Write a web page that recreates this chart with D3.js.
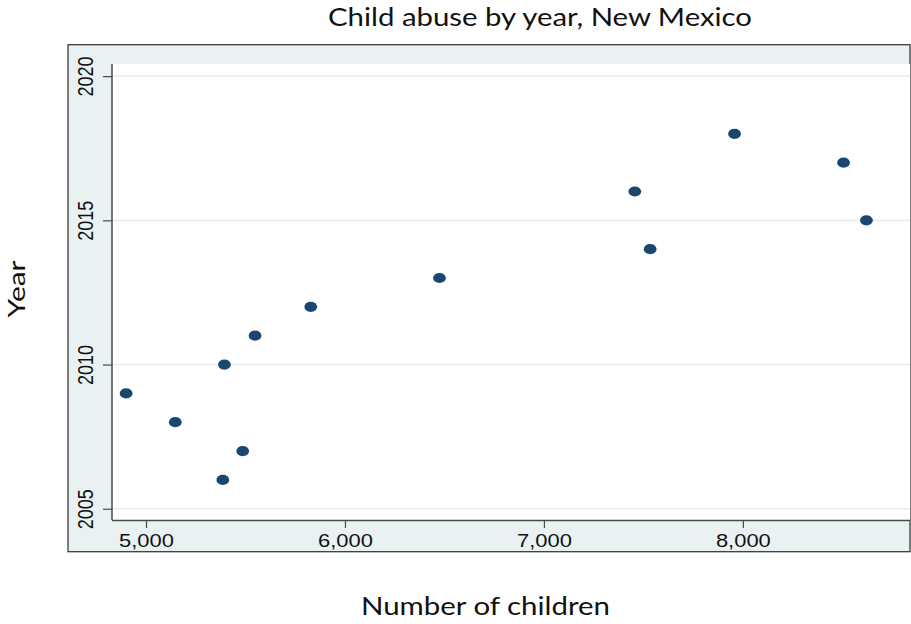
<!DOCTYPE html>
<html>
<head>
<meta charset="utf-8">
<script src="https://cdn.jsdelivr.net/npm/d3@7"></script>
<style>
  html, body { margin: 0; padding: 0; background: #ffffff; }
  svg { display: block; }
</style>
</head>
<body>
<svg id="chart" width="911" height="624"></svg>
<script>
// Child abuse counts in New Mexico by year
const years    = [2006, 2007, 2008, 2009, 2010, 2011, 2012, 2013, 2014, 2015, 2016, 2017, 2018];
const children = [5386, 5486, 5147, 4900, 5394, 5548, 5828, 6475, 7534, 8621, 7457, 8506, 7958];

const xTicks = [5000, 6000, 7000, 8000];
const yTicks = [2005, 2010, 2015, 2020];

const titleText = "Child abuse by year, New Mexico";
const xTitle = "Number of children";
const yTitle = "Year";

const W = 911, H = 624;
const frame = { left: 68, top: 44.7, right: 910, bottom: 551.7 };
const plot  = { left: 112, top: 64, right: 910, bottom: 520 };

const navy = "#1a476f";
const bgTint = "#eaf1f3";
const axisColor = "#4a4a4a";
const stretch = 1.22; // horizontal widening of axis labels

const svg = d3.select("#chart");

const x = d3.scaleLinear().domain([4829, 8840]).range([plot.left, plot.right]);
const y = d3.scaleLinear().domain([2004.61, 2020.42]).range([plot.bottom, plot.top]);

// graph region
svg.append("rect")
  .attr("x", frame.left).attr("y", frame.top)
  .attr("width", frame.right - frame.left).attr("height", frame.bottom - frame.top)
  .attr("fill", bgTint).attr("stroke", "#3a3a3a").attr("stroke-width", 1.3);

// plot region
svg.append("rect")
  .attr("x", plot.left).attr("y", plot.top)
  .attr("width", plot.right - plot.left).attr("height", plot.bottom - plot.top)
  .attr("fill", "#ffffff");

// horizontal gridlines
svg.append("g").selectAll("line").data(yTicks).join("line")
  .attr("x1", plot.left).attr("x2", plot.right)
  .attr("y1", d => y(d)).attr("y2", d => y(d))
  .attr("stroke", "#e4eef1").attr("stroke-width", 1.6);

// x axis
const xAxis = svg.append("g")
  .attr("transform", `translate(0,${plot.bottom})`)
  .call(d3.axisBottom(x).tickValues(xTicks).tickSize(8).tickSizeOuter(0).tickFormat(d3.format(",")));
xAxis.select(".domain").attr("stroke", axisColor).attr("stroke-width", 1.5)
  .attr("d", `M${plot.left},0.5H${plot.right}`);
xAxis.selectAll(".tick line").attr("stroke", axisColor).attr("stroke-width", 1.2);
xAxis.selectAll(".tick text")
  .attr("y", 0).attr("dy", null)
  .attr("transform", `translate(0,27) scale(${stretch},1)`)
  .attr("font-family", "'Liberation Sans', Arial, sans-serif")
  .attr("font-size", 18).attr("fill", "#111");

// y axis
const yAxis = svg.append("g")
  .attr("transform", `translate(${plot.left},0)`)
  .call(d3.axisLeft(y).tickValues(yTicks).tickSize(9).tickSizeOuter(0).tickFormat(d3.format("d")));
yAxis.select(".domain").attr("stroke", axisColor).attr("stroke-width", 1.5)
  .attr("d", `M0,${plot.top}V${plot.bottom}`);
yAxis.selectAll(".tick line").attr("stroke", axisColor).attr("stroke-width", 1.2);
yAxis.selectAll(".tick text")
  .attr("x", 0).attr("dy", null)
  .attr("text-anchor", "middle")
  .attr("transform", `translate(-18.7,0) scale(${stretch},1) rotate(-90)`)
  .attr("font-family", "'Liberation Sans', Arial, sans-serif")
  .attr("font-size", 18).attr("fill", "#111");

// points
svg.append("g").selectAll("ellipse").data(years.map((yr, i) => ({ yr, n: children[i] }))).join("ellipse")
  .attr("cx", d => x(d.n)).attr("cy", d => y(d.yr))
  .attr("rx", 6.4).attr("ry", 5.1)
  .attr("fill", navy);

// titles
const titleFont = "Lato, 'Open Sans', sans-serif";
svg.append("text")
  .attr("x", 540).attr("y", 26)
  .attr("text-anchor", "middle")
  .attr("font-family", titleFont).attr("font-size", 25).attr("fill", "#111")
  .attr("textLength", 424).attr("lengthAdjust", "spacingAndGlyphs")
  .text(titleText);

svg.append("text")
  .attr("x", 485.5).attr("y", 615)
  .attr("text-anchor", "middle")
  .attr("font-family", titleFont).attr("font-size", 25).attr("fill", "#111")
  .attr("textLength", 249).attr("lengthAdjust", "spacingAndGlyphs")
  .text(xTitle);

svg.append("text")
  .attr("transform", "translate(25,289) rotate(-90)")
  .attr("text-anchor", "middle")
  .attr("font-family", titleFont).attr("font-size", 23).attr("fill", "#111")
  .attr("textLength", 57).attr("lengthAdjust", "spacingAndGlyphs")
  .text(yTitle);
</script>
</body>
</html>
